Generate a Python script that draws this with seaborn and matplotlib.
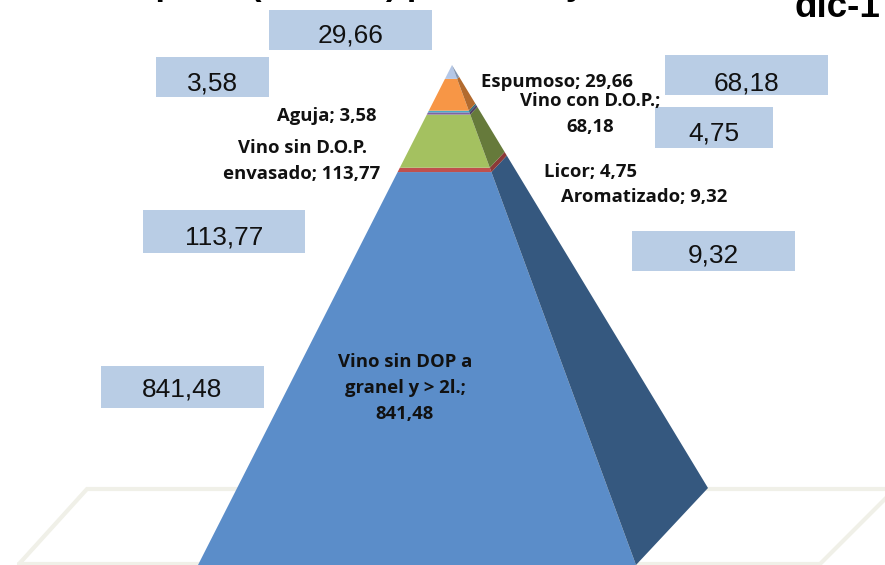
import numpy as np
import pandas as pd
import seaborn as sns
import matplotlib.pyplot as plt
from matplotlib.patches import Rectangle

sns.set_style("white")

categorias = ["Vino sin DOP a\ngranel y > 2l.", "Aromatizado", "Vino sin D.O.P.\nenvasado",
              "Licor", "Aguja", "Vino con D.O.P.", "Espumoso"]
valores = [841.48, 9.32, 113.77, 4.75, 3.58, 68.18, 29.66]
separador = [";\n", "; ", "; ", "; ", "; ", ";\n", "; "]
frente = ["#5B8DC9", "#C0504D", "#A4C160", "#8064A2", "#4BACC6", "#F79646", "#B4C7E7"]
lateral = ["#35587F", "#8C3A38", "#667A3B", "#4D3D63", "#2F6B7B", "#B26A2E", "#8395B0"]

df = pd.DataFrame({"cat": categorias, "valor": valores, "sep": separador,
                   "frente": frente, "lateral": lateral})
df["ini"] = df.valor.cumsum().shift(fill_value=0) / df.valor.sum()
df["fin"] = df.valor.cumsum() / df.valor.sum()
df["txt"] = df.valor.map(lambda v: f"{v:.2f}".replace(".", ","))

# vertices of the pyramid, in pixels of the picture
apice = np.array([452, 65])
izq = np.array([198, 565])
der = np.array([636, 565])
fondo = np.array([708, 488])


def punto(base, t):
    return base + t * (apice - base)


fig = plt.figure(figsize=(8.85, 5.65), dpi=100)
ax = fig.add_axes([0, 0, 1, 1])
ax.set_xlim(0, 885)
ax.set_ylim(565, 0)
ax.axis("off")

# floor
ax.plot([19, 87, 895, 820, 19], [564, 489, 489, 564, 564], color="#F0F0E8", lw=3, zorder=1,
        solid_joinstyle="miter")

for s in df.itertuples():
    a, b = punto(izq, s.ini), punto(der, s.ini)
    c, d = punto(der, s.fin), punto(izq, s.fin)
    ax.fill(*zip(a, b, c, d), color=s.frente, lw=0, zorder=2)
    e, f = punto(fondo, s.ini), punto(fondo, s.fin)
    ax.fill(*zip(b, e, f, c), color=s.lateral, lw=0, zorder=2)

# boxes with the values
cajas = [(101, 366, 163, 42), (632, 231, 163, 40), (143, 210, 162, 43), (655, 107, 118, 41),
         (156, 57, 113, 40), (665, 55, 163, 40), (269, 10, 163, 40)]
texto_y = [390, 256, 237, 134, 83, 83, 35]
fuente = "Liberation Sans"
for txt, (x, y, w, h), ty in zip(df.txt, cajas, texto_y):
    ax.add_patch(Rectangle((x, y), w, h, color="#B9CDE5", lw=0, zorder=3))
    ax.text(x + w / 2, ty, txt, ha="center", va="center", fontsize=18.9, family=fuente,
            color="#111111", zorder=4)

# data labels
etiquetas = [(405, 388), (644, 197), (302, 161), (590, 172), (327, 116), (590, 114), (557, 82)]
for s, (x, y) in zip(df.itertuples(), etiquetas):
    ax.text(x, y, s.cat + s.sep + s.txt, ha="center", va="center", fontsize=13.3,
            family="Open Sans", weight="bold", color="#111111", linespacing=1.6, zorder=5)

# title, cut by the top edge in the original
ax.text(116, -5, "Importe (Miles hl) por clase y", fontsize=24.5, family=fuente, weight="bold",
        va="baseline", ha="left", color="black")
ax.text(795, 17, "dic-1", fontsize=26.5, family=fuente, weight="bold", va="baseline", ha="left",
        color="black")

fig.savefig("out.png", dpi=100)
